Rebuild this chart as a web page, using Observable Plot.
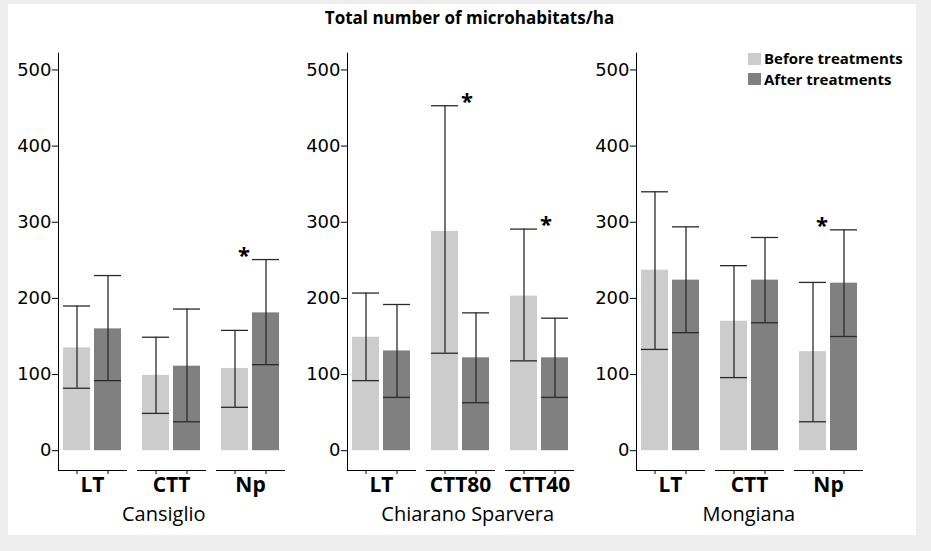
<!DOCTYPE html>
<html><head><meta charset="utf-8">
<script src="https://cdn.jsdelivr.net/npm/d3@7"></script>
<script src="https://cdn.jsdelivr.net/npm/@observablehq/plot@0.6"></script>
<style>
html,body{margin:0;padding:0;background:#eeeeee;width:931px;height:551px;overflow:hidden}
#panel{position:absolute;left:8px;top:4px;width:908px;height:531px;background:#fff}
#title{position:absolute;left:0;top:2.7px;width:923px;text-align:center;font:bold 17px/22px "Open Sans";color:#000}
.plot{position:absolute;top:36px}
.site{position:absolute;top:498px;text-align:center;font:20px/24px "Open Sans";color:#000;white-space:nowrap}
#legend{position:absolute;left:740px;top:44.3px;font:bold 15px/20.5px "Open Sans";color:#000}
.row{display:flex;align-items:center;height:20.5px}
.sw{display:inline-block;width:13px;height:12px;margin-right:3px}
</style>
</head><body>
<div id="panel">
  <div id="title">Total number of microhabitats/ha</div>
  <div id="legend"></div>
</div>
<script>
// ---- data ----
const sites = ["Cansiglio", "Chiarano Sparvera", "Mongiana"];
const periods = ["Before treatments", "After treatments"];
const yTicks = [0, 100, 200, 300, 400, 500];

const cansiglioGroups = ["LT", "CTT", "Np"];
const cansiglioBefore = [135, 99, 108];
const cansiglioBeforeLow = [82, 49, 57];
const cansiglioBeforeHigh = [190, 149, 158];
const cansiglioAfter = [160, 111, 181];
const cansiglioAfterLow = [92, 38, 113];
const cansiglioAfterHigh = [230, 186, 251];
const cansiglioSig = [{group: "Np", period: "After treatments"}];

const chiaranoGroups = ["LT", "CTT80", "CTT40"];
const chiaranoBefore = [149, 288, 203];
const chiaranoBeforeLow = [92, 128, 118];
const chiaranoBeforeHigh = [207, 453, 291];
const chiaranoAfter = [131, 122, 122];
const chiaranoAfterLow = [70, 63, 70];
const chiaranoAfterHigh = [192, 181, 174];
const chiaranoSig = [{group: "CTT80", period: "Before treatments"}, {group: "CTT40", period: "Before treatments"}];

const mongianaGroups = ["LT", "CTT", "Np"];
const mongianaBefore = [237, 170, 130];
const mongianaBeforeLow = [133, 96, 38];
const mongianaBeforeHigh = [340, 243, 221];
const mongianaAfter = [224, 224, 220];
const mongianaAfterLow = [155, 168, 150];
const mongianaAfterHigh = [294, 280, 290];
const mongianaSig = [{group: "Np", period: "After treatments"}];

const colors = ["#cccccc", "#808080"];

// ---- build ----
function rowsFor(groups, b, bl, bh, a, al, ah) {
  const rows = [];
  groups.forEach((g, i) => {
    rows.push({group: g, period: periods[0], mean: b[i], low: bl[i], high: bh[i]});
    rows.push({group: g, period: periods[1], mean: a[i], low: al[i], high: ah[i]});
  });
  return rows;
}

const panels = [
  {site: sites[0], groups: cansiglioGroups, rows: rowsFor(cansiglioGroups, cansiglioBefore, cansiglioBeforeLow, cansiglioBeforeHigh, cansiglioAfter, cansiglioAfterLow, cansiglioAfterHigh), sig: cansiglioSig, labelShift: -7},
  {site: sites[1], groups: chiaranoGroups, rows: rowsFor(chiaranoGroups, chiaranoBefore, chiaranoBeforeLow, chiaranoBeforeHigh, chiaranoAfter, chiaranoAfterLow, chiaranoAfterHigh), sig: chiaranoSig, labelShift: 8},
  {site: sites[2], groups: mongianaGroups, rows: rowsFor(mongianaGroups, mongianaBefore, mongianaBeforeLow, mongianaBeforeHigh, mongianaAfter, mongianaAfterLow, mongianaAfterHigh), sig: mongianaSig, labelShift: 0}
];

const panel = document.getElementById("panel");
const W = 289, ML = 49, MR = 12.5;
const ink = "#2a2a2a";

panels.forEach((p, k) => {
  const sigRows = p.sig.map(s => p.rows.find(r => r.group === s.group && r.period === s.period));
  const chart = Plot.plot({
    width: W, height: 460,
    marginLeft: ML, marginRight: MR, marginTop: 12.7, marginBottom: 30,
    style: {fontFamily: "DejaVu Sans", fontSize: "18px", background: "transparent", color: "#000", overflow: "visible"},
    fx: {domain: p.groups, paddingInner: 0.138, paddingOuter: 0, axis: null},
    x: {domain: periods, paddingInner: 0.137, paddingOuter: 0.163, label: null, tickSize: 4, tickFormat: () => "", line: true},
    y: {domain: [-26, 522], ticks: yTicks, tickSize: 6, tickPadding: 1, label: null, line: true},
    color: {domain: periods, range: colors},
    marks: [
      Plot.axisFx({anchor: "bottom", label: null, tickSize: 0, tickPadding: 7, fontFamily: "Open Sans", fontWeight: "bold", fontSize: 21}),
      Plot.barY(p.rows, {fx: "group", x: "period", y: "mean", fill: "period"}),
      Plot.ruleX(p.rows, {fx: "group", x: "period", y1: "low", y2: "high", stroke: ink, strokeWidth: 1.3}),
      Plot.tickY(p.rows, {fx: "group", x: "period", y: "low", stroke: ink, strokeWidth: 1.3}),
      Plot.tickY(p.rows, {fx: "group", x: "period", y: "high", stroke: ink, strokeWidth: 1.3}),
      Plot.text(sigRows.filter(d => d.period === periods[0]), {fx: "group", x: "period", y: "high", text: () => "*", dx: 22, dy: -4, fontSize: 22, fontWeight: "bold", fontFamily: "Open Sans", fill: "#000"}),
      Plot.text(sigRows.filter(d => d.period === periods[1]), {fx: "group", x: "period", y: "high", text: () => "*", dx: -22, dy: -4, fontSize: 22, fontWeight: "bold", fontFamily: "Open Sans", fill: "#000"})
    ]
  });
  const wrap = document.createElement("div");
  wrap.className = "plot";
  wrap.style.left = (k * W) + "px";
  wrap.appendChild(chart);
  panel.appendChild(wrap);

  const lab = document.createElement("div");
  lab.className = "site";
  lab.style.left = (k * W + ML + p.labelShift) + "px";
  lab.style.width = (W - ML - MR) + "px";
  lab.textContent = p.site;
  panel.appendChild(lab);
});

// legend
const legend = document.getElementById("legend");
periods.forEach((per, i) => {
  const row = document.createElement("div");
  row.className = "row";
  const sw = document.createElement("span");
  sw.className = "sw";
  sw.style.background = colors[i];
  const t = document.createElement("span");
  t.textContent = per;
  row.appendChild(sw); row.appendChild(t);
  legend.appendChild(row);
});
</script>
</body></html>
